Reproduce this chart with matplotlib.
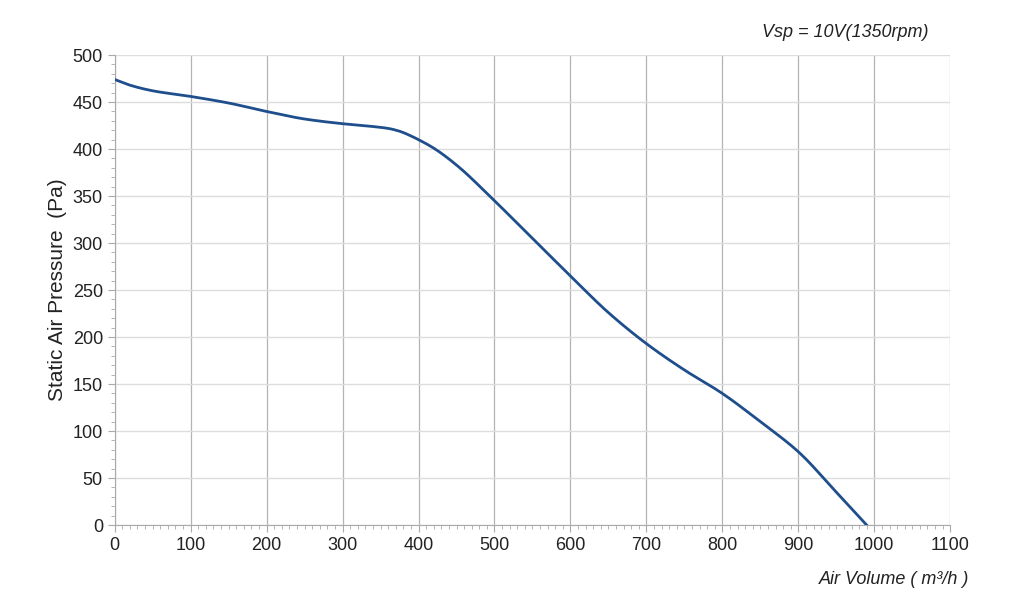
import numpy as np
import matplotlib.pyplot as plt
from matplotlib.ticker import MultipleLocator

plt.rcParams['font.family'] = ['Liberation Sans', 'DejaVu Sans']

air_volume = [0, 20, 50, 100, 150, 200, 250, 300, 340, 360, 375, 390, 400, 420, 450, 500, 550,
              600, 650, 700, 750, 800, 850, 900, 950, 990]
pressure = [474, 468, 462, 456, 449, 440, 432, 427, 424, 422, 419, 414, 410, 401, 383, 345, 305,
            265, 226, 193, 165, 140, 110, 78, 35, 0]

fig = plt.figure(figsize=(10.24, 6.12), dpi=100)
ax = fig.add_axes([0.112, 0.142, 0.816, 0.768])

xs = np.linspace(0, 990, 400)
# smooth through the read points with a monotone cubic
def pchip(x, y, xn):
    x = np.asarray(x, float); y = np.asarray(y, float)
    h = np.diff(x); d = np.diff(y) / h
    m = np.zeros_like(y)
    for i in range(1, len(y) - 1):
        if d[i - 1] * d[i] > 0:
            w1 = 2 * h[i] + h[i - 1]; w2 = h[i] + 2 * h[i - 1]
            m[i] = (w1 + w2) / (w1 / d[i - 1] + w2 / d[i])
    m[0] = d[0]; m[-1] = d[-1]
    idx = np.clip(np.searchsorted(x, xn) - 1, 0, len(h) - 1)
    t = (xn - x[idx]) / h[idx]
    h00 = 2*t**3 - 3*t**2 + 1; h10 = t**3 - 2*t**2 + t
    h01 = -2*t**3 + 3*t**2; h11 = t**3 - t**2
    return h00*y[idx] + h10*h[idx]*m[idx] + h01*y[idx+1] + h11*h[idx]*m[idx+1]

ax.plot(xs, pchip(air_volume, pressure, xs), color='#1f4e8c', lw=2, zorder=3)

ax.set_xlim(0, 1100)
ax.set_ylim(0, 500)
ax.xaxis.set_major_locator(MultipleLocator(100))
ax.xaxis.set_minor_locator(MultipleLocator(10))
ax.yaxis.set_major_locator(MultipleLocator(50))
ax.yaxis.set_minor_locator(MultipleLocator(10))
ax.grid(axis='x', which='major', color='#b4b4b4', lw=0.9)
ax.grid(axis='y', which='major', color='#dddddd', lw=1)
for s in ['top', 'right']:
    ax.spines[s].set_visible(False)
for s in ['left', 'bottom']:
    ax.spines[s].set_color('#aaaaaa')
ax.tick_params(which='both', colors='#aaaaaa', labelcolor='#222222', labelsize=13)
ax.tick_params(which='major', length=5)
ax.tick_params(which='minor', length=3)

ax.set_ylabel('Static Air Pressure  (Pa)', fontsize=15, color='#222222')
fig.text(0.947, 0.045, 'Air Volume ( m³/h )', ha='right', fontsize=13, style='italic', color='#222222')
fig.text(0.907, 0.94, 'Vsp = 10V(1350rpm)', ha='right', fontsize=13, style='italic', color='#222222')

fig.savefig('out.png')
